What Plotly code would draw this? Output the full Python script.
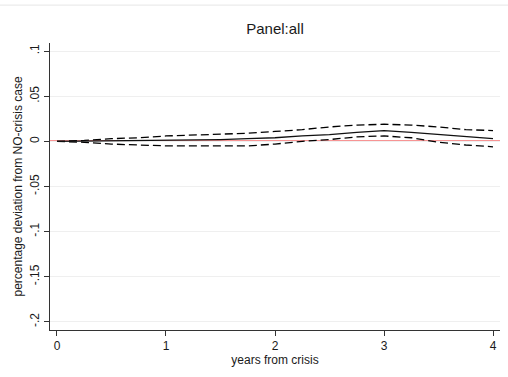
import plotly.graph_objects as go

# Years after the crisis (quarterly steps)
years = [0, 0.25, 0.5, 0.75, 1, 1.25, 1.5, 1.75, 2, 2.25, 2.5, 2.75, 3, 3.25, 3.5, 3.75, 4]

# Point estimate and confidence band (deviation from the no-crisis path)
estimate = [0, 0.0003, 0.0005, 0.0008, 0.001, 0.0015, 0.002, 0.003, 0.004, 0.006,
            0.0075, 0.010, 0.012, 0.010, 0.0075, 0.005, 0.003]
upper = [0, 0.001, 0.003, 0.004, 0.006, 0.007, 0.008, 0.009, 0.011, 0.013,
         0.016, 0.018, 0.019, 0.018, 0.016, 0.013, 0.012]
lower = [0, -0.001, -0.003, -0.004, -0.005, -0.005, -0.005, -0.005, -0.003, 0.0,
         0.002, 0.005, 0.006, 0.004, -0.001, -0.004, -0.006]

x_ticks = [0, 1, 2, 3, 4]
y_ticks = [-0.2, -0.15, -0.1, -0.05, 0, 0.05, 0.1]
y_tick_text = ["-.2", "-.15", "-.1", "-.05", "0", ".05", ".1"]

FONT = "Liberation Sans, Arial, sans-serif"
INK = "#1a1a1a"
DASH = "8px,4px"

fig = go.Figure()

fig.add_trace(go.Scatter(x=years, y=upper, mode="lines",
                         line=dict(color="black", width=1.3, dash=DASH),
                         showlegend=False, hoverinfo="skip"))
fig.add_trace(go.Scatter(x=years, y=lower, mode="lines",
                         line=dict(color="black", width=1.3, dash=DASH),
                         showlegend=False, hoverinfo="skip"))
fig.add_trace(go.Scatter(x=years, y=estimate, mode="lines",
                         line=dict(color="#111111", width=1.3),
                         showlegend=False, hoverinfo="skip"))

# Reference line at zero
fig.add_shape(type="line", xref="x domain", yref="y", x0=0, x1=1, y0=0, y1=0,
              line=dict(color="#f02a2a", width=1.5), layer="below")

# Faint rule at the very top of the page
fig.add_shape(type="line", xref="paper", yref="paper", x0=-0.2, x1=1.2,
              y0=1.132, y1=1.132, line=dict(color="#e6e6e6", width=1))

fig.update_layout(
    width=508, height=377,
    margin=dict(l=50, r=8, t=43, b=47),
    paper_bgcolor="white", plot_bgcolor="white",
    font=dict(family=FONT, color=INK, size=11),
    title=dict(text="Panel:all", x=0.5, xref="paper", xanchor="center",
               y=1 - 29 / 377, yanchor="middle",
               font=dict(size=15, family=FONT, color=INK)),
    xaxis=dict(range=[-0.064, 4.064], tickvals=x_ticks,
               ticks="outside", ticklen=5, tickcolor="#333333",
               showline=True, linecolor="#333333", linewidth=1,
               showgrid=False, zeroline=False,
               tickfont=dict(size=12, family=FONT, color=INK),
               title=dict(text="years from crisis", standoff=1,
                          font=dict(size=12, family=FONT, color=INK))),
    yaxis=dict(range=[-0.209, 0.109], tickvals=y_ticks, ticktext=y_tick_text,
               tickangle=-90, ticks="outside", ticklen=5, tickcolor="#333333",
               showline=True, linecolor="#333333", linewidth=1,
               showgrid=True, gridcolor="#efefef", gridwidth=1, zeroline=False,
               tickfont=dict(size=12, family=FONT, color=INK),
               title=dict(text="percentage deviation from NO-crisis case", standoff=3,
                          font=dict(size=12, family=FONT, color=INK))),
)

fig.write_html("out.html")
